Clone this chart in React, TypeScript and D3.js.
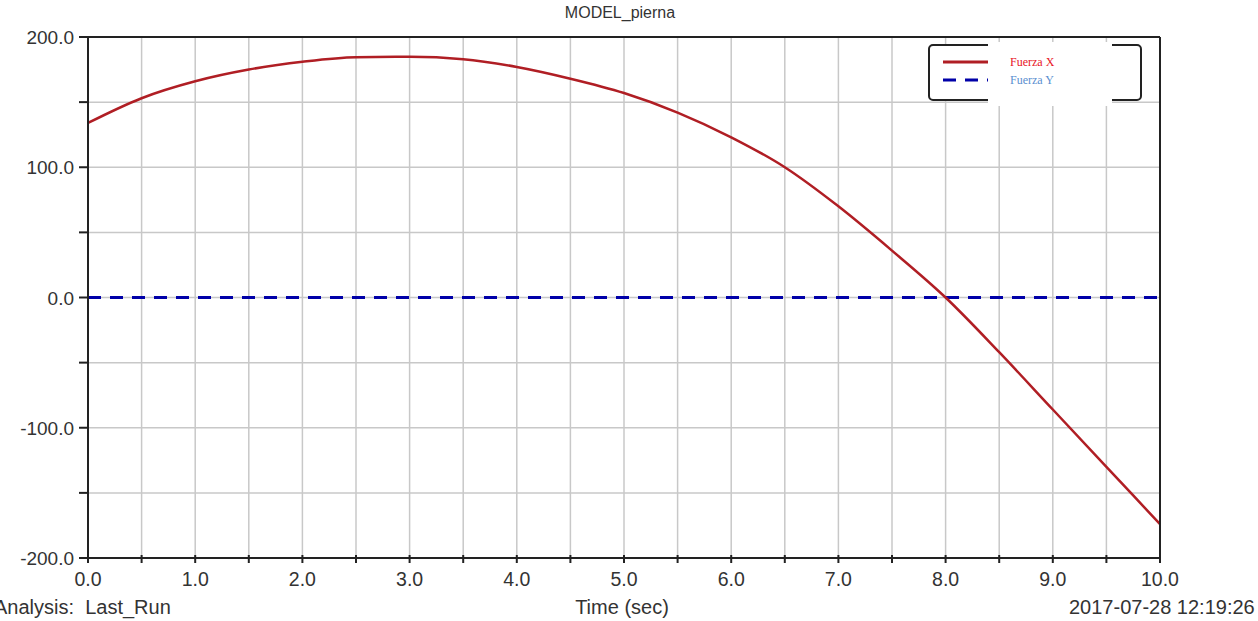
import React from "react";
import * as d3 from "d3";

const time = [0, 0.5, 1, 1.5, 2, 2.5, 3, 3.5, 4, 4.5, 5, 5.5, 6, 6.5, 7, 7.5, 8, 8.5, 9, 9.5, 10];
const fuerzaX = [134, 153, 166, 175, 181, 184.5, 184.8, 183, 177, 168, 157, 142, 123, 100, 70, 36, 0, -42, -86, -130, -174];
const fuerzaY = time.map(() => 0);
const yTickLabels = [200, 100, 0, -100, -200];
const xTickLabels = [0, 1, 2, 3, 4, 5, 6, 7, 8, 9, 10];
const seriesNames = ["Fuerza X", "Fuerza Y"];

export default function App() {
  const W = 1258, H = 621;
  const x = d3.scaleLinear().domain([0, 10]).range([88, 1160]);
  const y = d3.scaleLinear().domain([-200, 200]).range([558, 37]);
  const xGrid = d3.range(0, 10.01, 0.5);
  const yGrid = d3.range(-200, 200.1, 50);
  const line = d3.line<number>().x((_, i) => x(time[i])).y((d) => y(d)).curve(d3.curveMonotoneX);
  const font = "'Liberation Sans', Arial, sans-serif";
  return (
    <svg width={W} height={H} style={{ position: "absolute", left: 0, top: 0, background: "#fff" }}>
      <rect x={0} y={0} width={W} height={H} fill="#fff" />
      {xGrid.map((t) => (
        <line key={"gx" + t} x1={x(t)} x2={x(t)} y1={y(200)} y2={y(-200)} stroke="#c8c8c8" strokeWidth={1.5} />
      ))}
      {yGrid.map((v) => (
        <line key={"gy" + v} x1={x(0)} x2={x(10)} y1={y(v)} y2={y(v)} stroke="#c8c8c8" strokeWidth={1.5} />
      ))}
      <path d={line(fuerzaY) || ""} fill="none" stroke="#0000a8" strokeWidth={3} strokeDasharray="13,9" />
      <path d={line(fuerzaX) || ""} fill="none" stroke="#b01e24" strokeWidth={2.5} />
      {/* frame */}
      <line x1={x(0)} x2={x(10)} y1={y(200)} y2={y(200)} stroke="#222" strokeWidth={2} />
      <line x1={x(0)} x2={x(10)} y1={y(-200)} y2={y(-200)} stroke="#222" strokeWidth={2} />
      <line x1={x(0)} x2={x(0)} y1={y(200)} y2={y(-200)} stroke="#222" strokeWidth={2} />
      <line x1={x(10)} x2={x(10)} y1={y(200)} y2={y(-200)} stroke="#222" strokeWidth={2} />
      {yGrid.map((v) => (
        <line key={"ty" + v} x1={x(0) - 9} x2={x(0)} y1={y(v)} y2={y(v)} stroke="#222" strokeWidth={2} />
      ))}
      {xGrid.map((t) => (
        <line key={"tx" + t} x1={x(t)} x2={x(t)} y1={y(-200) - 3} y2={y(-200) + 5} stroke="#222" strokeWidth={2} />
      ))}
      {yTickLabels.map((v) => (
        <text key={"ly" + v} x={74} y={y(v) + 7} textAnchor="end" fontFamily={font} fontSize={19} fill="#333">
          {v.toFixed(1)}
        </text>
      ))}
      {xTickLabels.map((t) => (
        <text key={"lx" + t} x={x(t)} y={586} textAnchor="middle" fontFamily={font} fontSize={19.5} fill="#333">
          {t.toFixed(1)}
        </text>
      ))}
      <text x={620} y={18} textAnchor="middle" fontFamily={font} fontSize={16} fill="#333">MODEL_pierna</text>
      <text x={622} y={614} textAnchor="middle" fontFamily={font} fontSize={20} fill="#333">Time (sec)</text>
      <text x={-6} y={614} textAnchor="start" fontFamily={font} fontSize={20} fill="#333">{"Analysis:\u00a0\u00a0Last_Run"}</text>
      <text x={1069} y={614} textAnchor="start" fontFamily={font} fontSize={20} fill="#333">2017-07-28 12:19:26</text>
      {/* legend */}
      <rect x={929} y={45} width={212} height={55} rx={4} fill="#fff" stroke="#222" strokeWidth={2} />
      <line x1={943} x2={988} y1={62} y2={62} stroke="#b01e24" strokeWidth={3} />
      <line x1={943} x2={988} y1={80} y2={80} stroke="#0000a8" strokeWidth={3} strokeDasharray="13,9" />
      <rect x={988} y={42} width={124} height={64} fill="#fff" />
      <text x={1010} y={66} fontFamily="'Liberation Serif', 'Times New Roman', serif" fontSize={12} fill="#e8141e">{seriesNames[0]}</text>
      <text x={1010} y={84} fontFamily="'Liberation Serif', 'Times New Roman', serif" fontSize={12} fill="#5a8fd0">{seriesNames[1]}</text>
    </svg>
  );
}
